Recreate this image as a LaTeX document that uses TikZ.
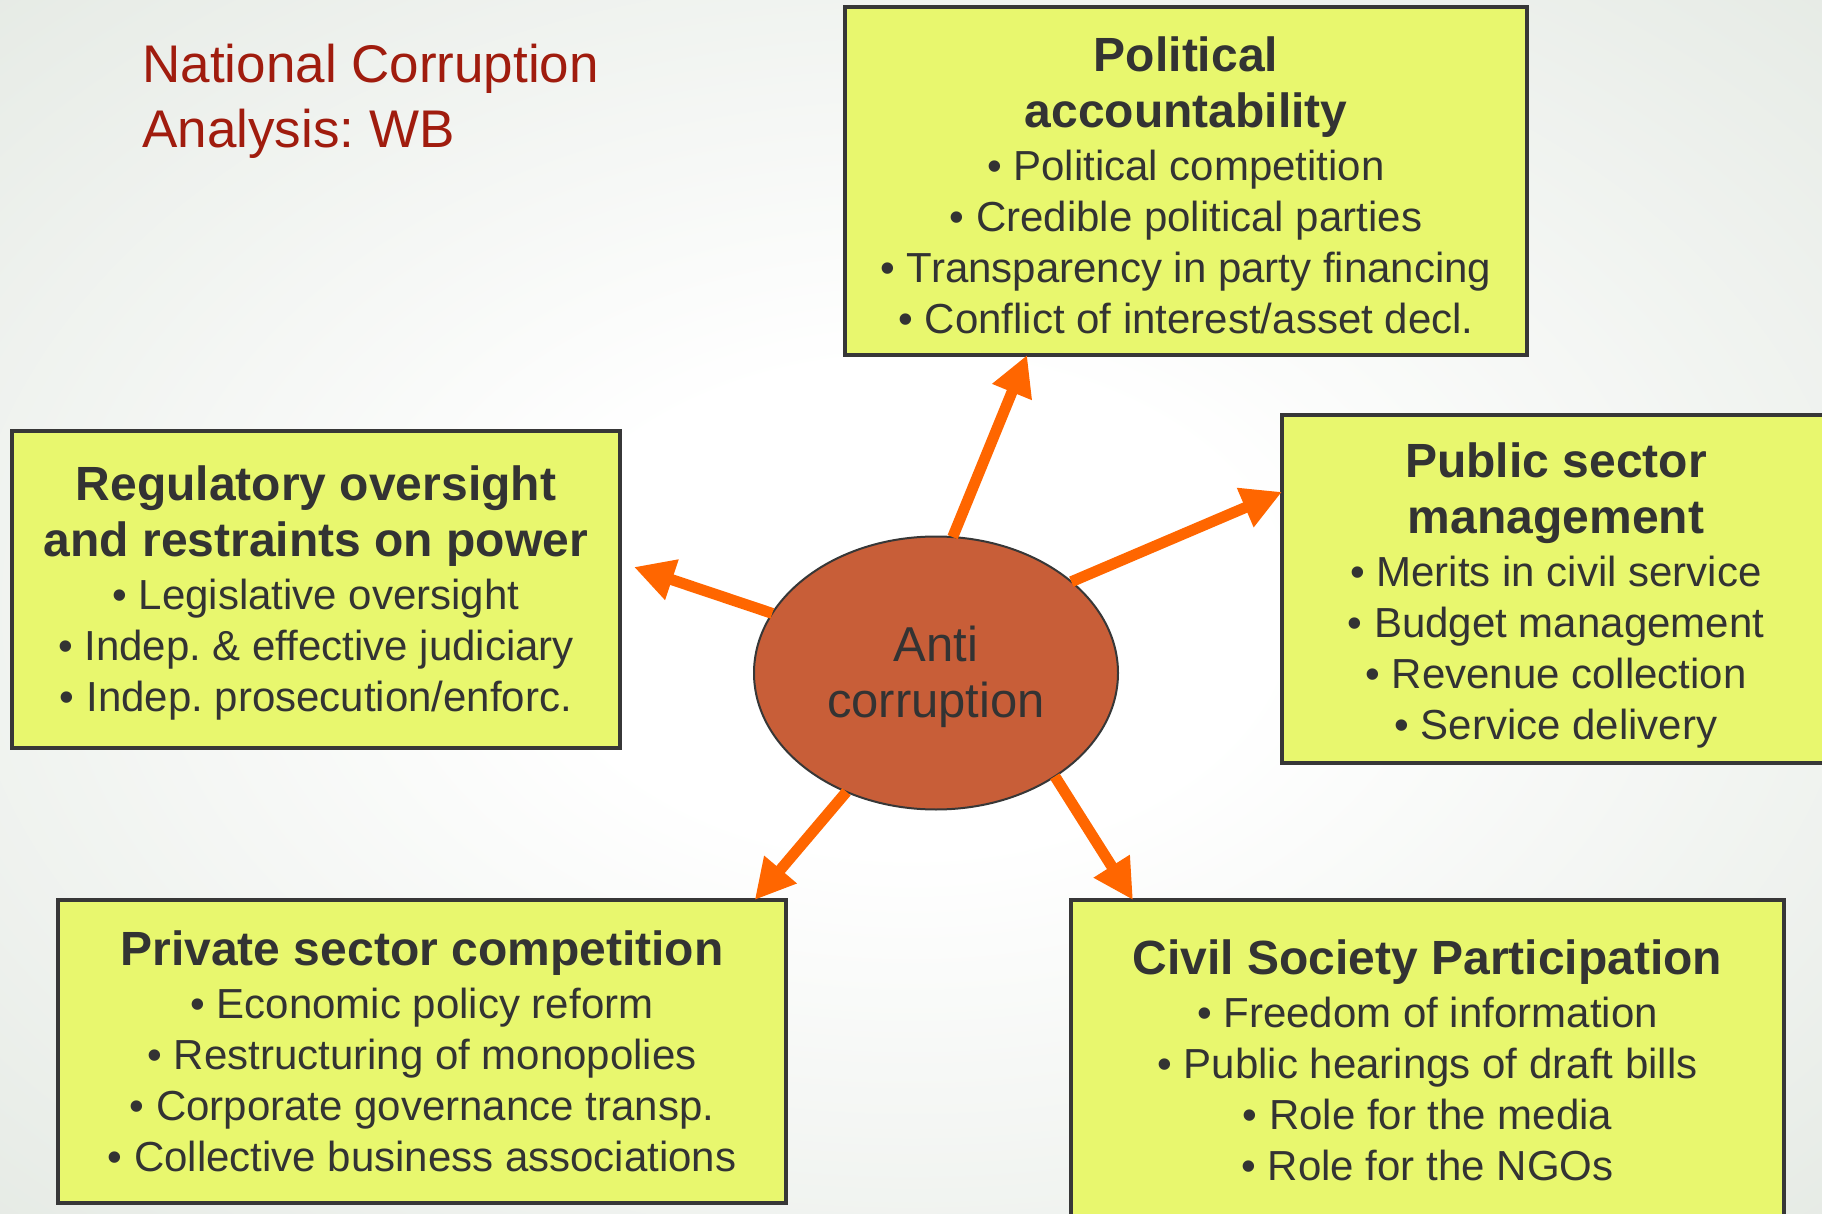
\documentclass[tikz,border=0pt]{standalone}
\usepackage{fontspec}
\setmainfont{Liberation Sans}
\usetikzlibrary{arrows.meta,shapes.geometric,calc}
\frenchspacing
\definecolor{boxfill}{RGB}{232,247,110}
\definecolor{boxline}{RGB}{55,55,55}
\definecolor{ellfill}{RGB}{200,94,56}
\definecolor{arr}{RGB}{255,102,0}
\definecolor{txt}{RGB}{51,51,51}
\definecolor{ttl}{RGB}{160,28,14}
\definecolor{bgout}{RGB}{224,230,223}
\pgfdeclareradialshading{bgshade}{\pgfpoint{0bp}{0bp}}{color(0bp)=(white); color(10bp)=(white); color(42bp)=(bgout); color(50bp)=(bgout)}
\newcommand\boxhead[1]{{\bfseries\fontsize{24}{28}\selectfont #1}}
\newcommand\topstrut[1]{\rule{0pt}{#1}}
\begin{document}
\begin{tikzpicture}[x=0.5pt,y=-0.5pt,
  box/.style={draw=boxline, line width=2pt, fill=boxfill, text=txt, align=center,
    inner sep=0pt, outer sep=0pt, anchor=north west, font=\fontsize{21}{25.5}\selectfont},
  arrowline/.style={draw=arr, line width=5.5pt, -{Triangle[length=20pt,width=20pt]}}]
\useasboundingbox (0,0) rectangle (1822,1214);
\shade[shading=bgshade] (0,0) rectangle (1822,1214);

\node[anchor=north west, inner sep=0pt, align=left, text=ttl,
  font=\fontsize{26.5}{32.5}\selectfont] (title) at (142,44) {National Corruption\\Analysis: WB};

\node[box, minimum width=341pt, minimum height=174pt] (pol) at (845,7)
  {\topstrut{21.5pt}\boxhead{Political}\\[2.5pt]\boxhead{accountability}\\[1pt]
   • Political competition\\• Credible political parties\\
   • Transparency in party financing\\• Conflict of interest/asset decl.};

\node[box, minimum width=274pt, minimum height=174pt] (pub) at (1282,415)
  {\topstrut{23.5pt}\boxhead{Public sector}\\[2.5pt]\boxhead{management}\\[1pt]
   • Merits in civil service\\• Budget management\\
   • Revenue collection\\• Service delivery};

\node[box, minimum width=304pt, minimum height=158.5pt] (reg) at (12,431)
  {\topstrut{21pt}\boxhead{Regulatory oversight}\\[2.5pt]\boxhead{and restraints on power}\\[1pt]
   • Legislative oversight\\• Indep. \& effective judiciary\\
   • Indep. prosecution/enforc.};

\node[box, minimum width=364pt, minimum height=151.5pt] (priv) at (58,900)
  {\boxhead{Private sector competition}\\[1pt]
   • Economic policy reform\\• Restructuring of monopolies\\
   • Corporate governance transp.\\• Collective business associations};

\node[box, minimum width=356.5pt, minimum height=158pt] (civ) at (1071,900)
  {\topstrut{20pt}\boxhead{Civil Society Participation}\\[1pt]
   • Freedom of information\\• Public hearings of draft bills\\
   • Role for the media\\• Role for the NGOs};

\node[ellipse, draw=boxline, line width=1pt, fill=ellfill, minimum width=182pt,
  minimum height=136.5pt, inner sep=0pt, outer sep=0pt, text=txt, align=center,
  font=\fontsize{24.5}{28}\selectfont] (anti) at (936,673) {\topstrut{22pt}Anti\\corruption};

\coordinate (regtip) at (634,567);
\draw[arrowline] (anti.83) -- ($(pol.south west)!0.267!(pol.south east)$);
\draw[arrowline] (anti.34) -- ($(pub.north west)!0.221!(pub.south west)$);
\draw[arrowline] (anti.160) -- (regtip);
\draw[arrowline] (anti.233) -- ($(priv.north west)!0.957!(priv.north east)$);
\draw[arrowline] (anti.319) -- ($(civ.north west)+(62,0)$);
\end{tikzpicture}
\end{document}
